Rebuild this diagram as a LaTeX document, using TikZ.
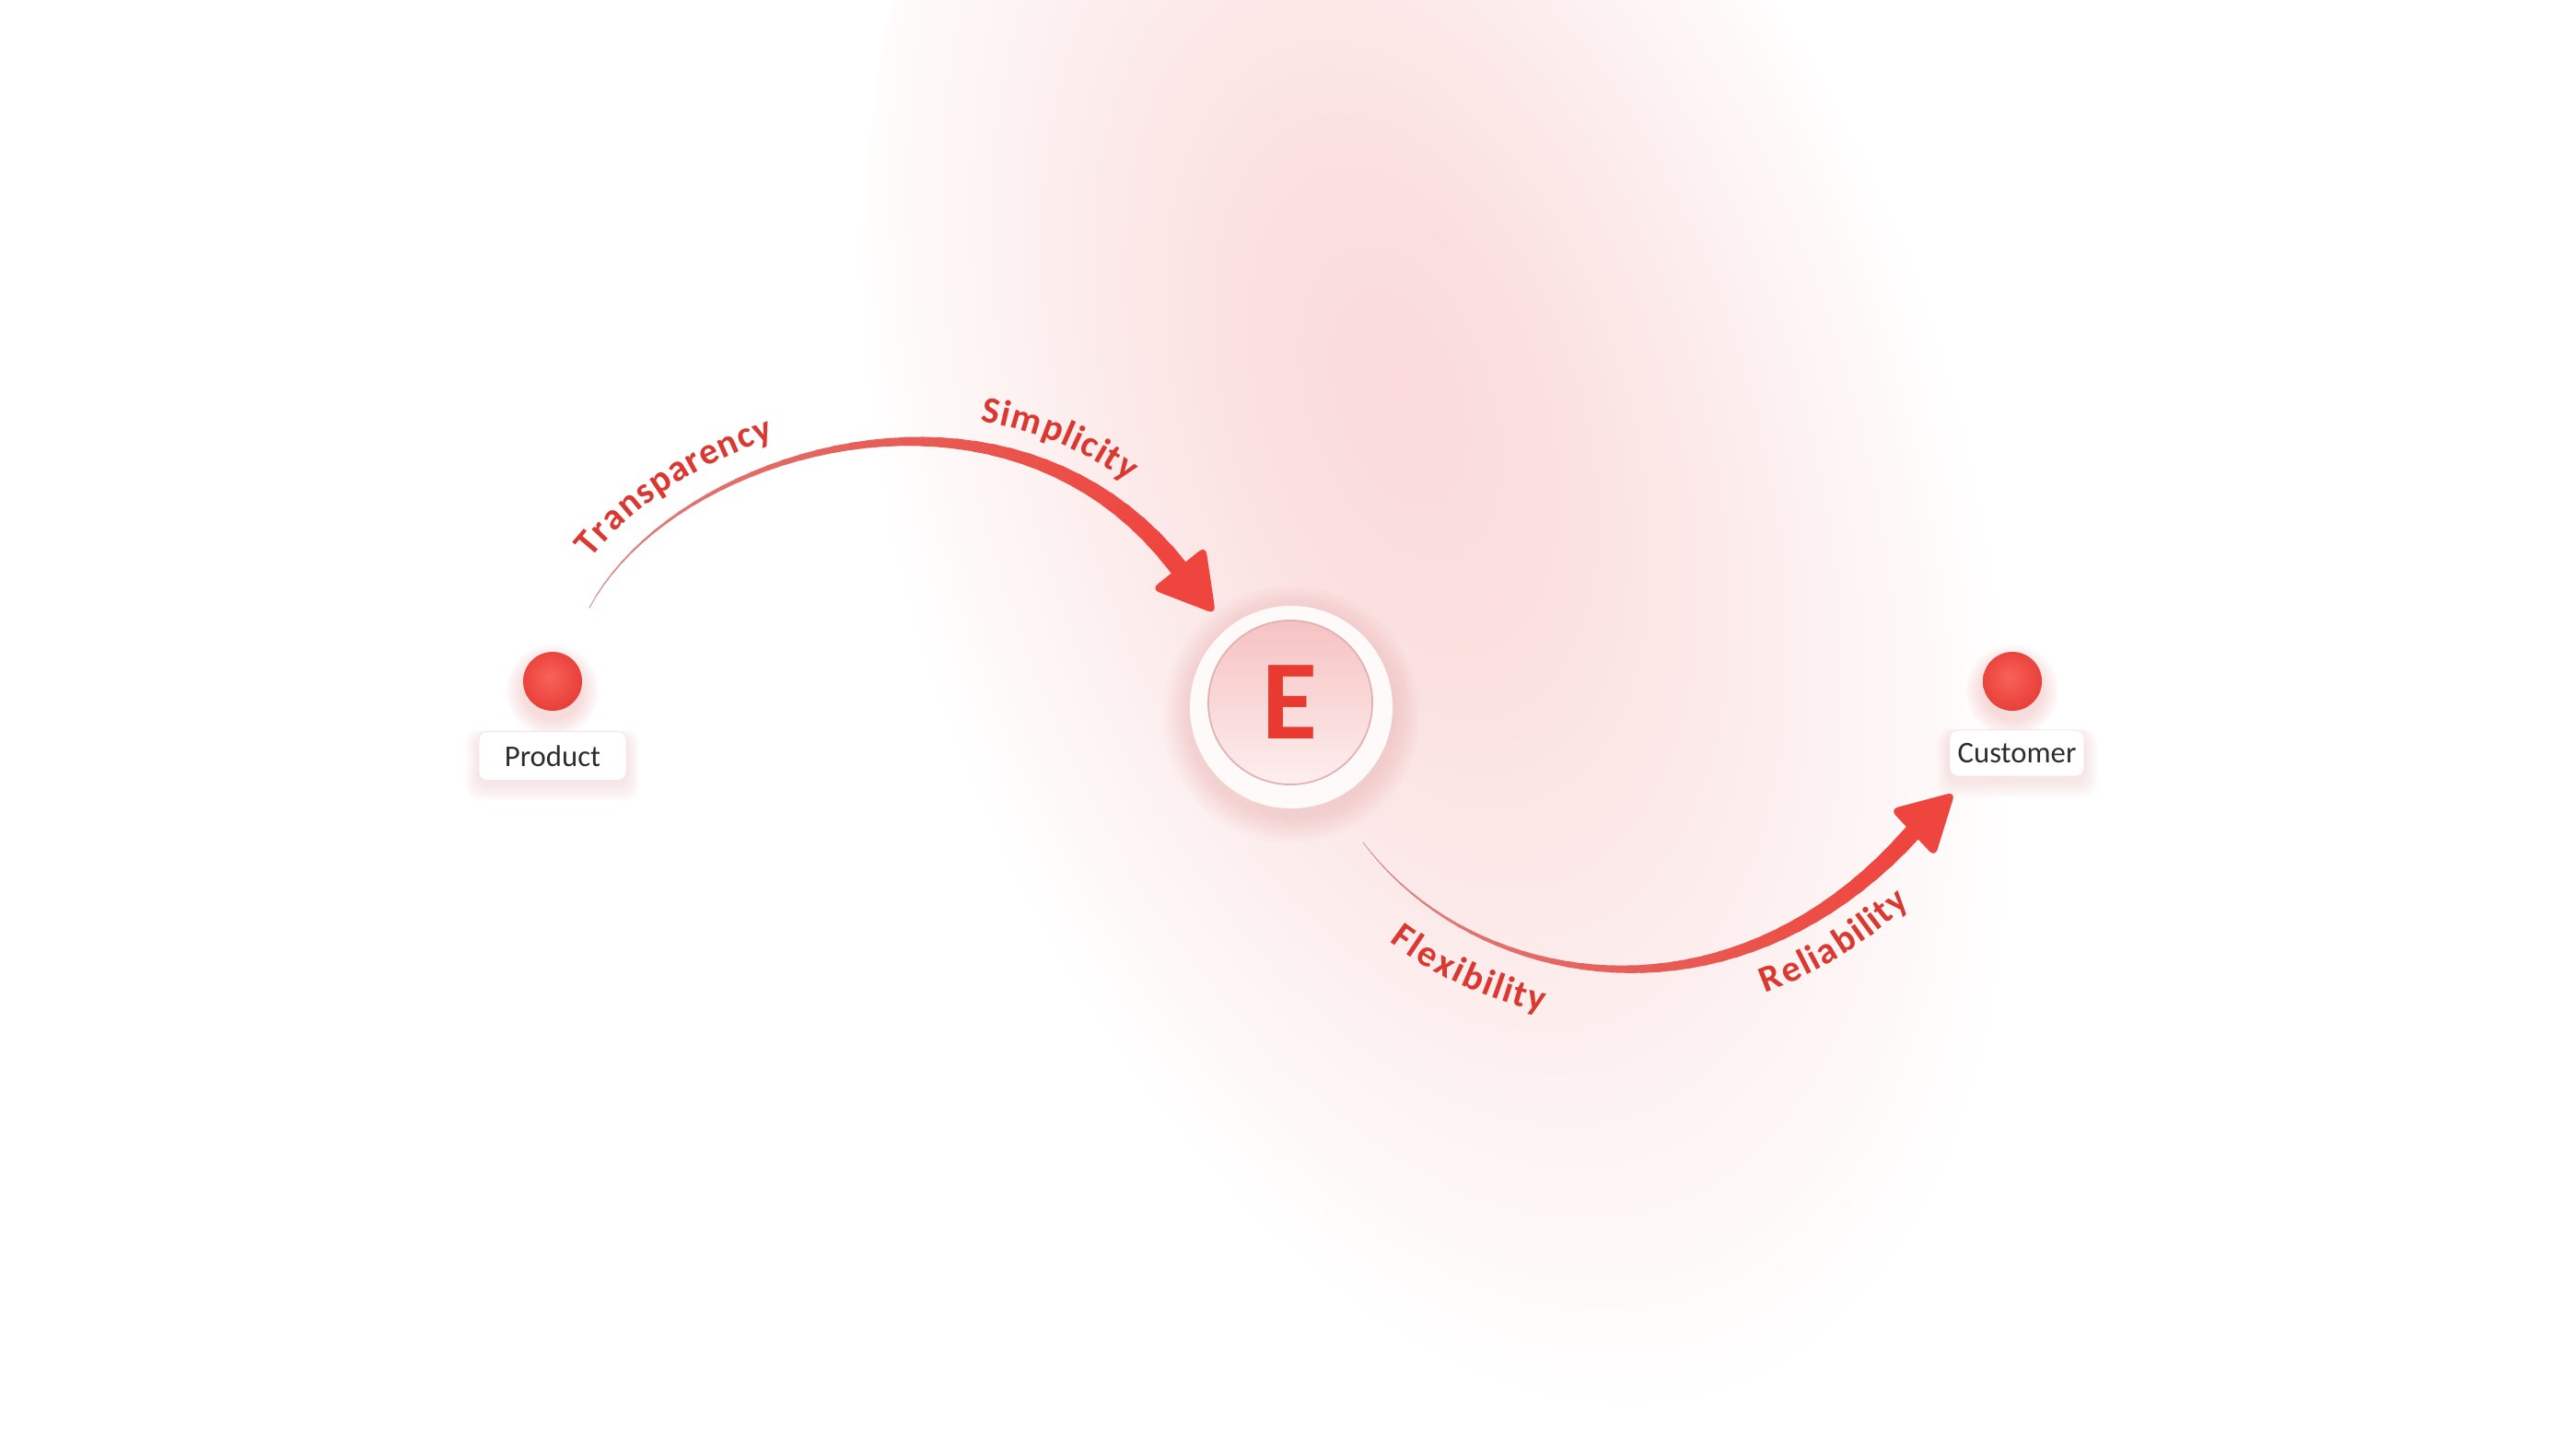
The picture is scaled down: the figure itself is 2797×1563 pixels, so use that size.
\documentclass[tikz,border=0pt]{standalone}
\usepackage{fontspec}
\setmainfont{Carlito}
\usetikzlibrary{decorations.text}
\definecolor{arrowred}{RGB}{238,70,62}
\definecolor{labred}{RGB}{218,56,48}
\definecolor{dotred}{RGB}{240,78,70}
\definecolor{dotlight}{RGB}{246,100,92}
\definecolor{dotdark}{RGB}{232,66,60}
\definecolor{bgpink}{RGB}{252,232,232}
\definecolor{bgcore}{RGB}{250,218,218}
\definecolor{startgray}{RGB}{205,185,185}
\definecolor{txtgray}{RGB}{45,45,45}
\definecolor{glowpink}{RGB}{240,150,150}
\definecolor{boxedge}{RGB}{240,228,228}
\definecolor{ringwhite}{RGB}{254,250,250}
\definecolor{coretop}{RGB}{246,194,194}
\definecolor{corebot}{RGB}{253,238,238}
\definecolor{coreedge}{RGB}{228,176,176}
\definecolor{Ered}{RGB}{232,58,48}
\newcommand\labfont{\fontsize{11.5}{14}\selectfont\bfseries}
\pgfdeclareradialshading{bgglow}{\pgfpoint{0bp}{5bp}}{color(0bp)=(bgcore); color(5bp)=(bgcore!70!bgpink); color(12bp)=(bgpink); color(25bp)=(white); color(50bp)=(white)}
\pgfdeclareradialshading{dotshade}{\pgfpoint{-3bp}{4bp}}{color(0bp)=(dotlight); color(15bp)=(dotred); color(25bp)=(dotdark); color(50bp)=(dotdark)}
\tikzset{
  dotnode/.style={circle, inner sep=0pt, minimum size=0.64cm, shade, shading=dotshade},
  lbl/.style={rectangle, fill=white, rounded corners=2.5pt, inner sep=0pt, font=\fontsize{9.3}{11}\selectfont, text=txtgray, draw=boxedge, line width=0.2pt},
  hubring/.style={circle, inner sep=0pt, minimum size=2.2cm, fill=ringwhite},
  hubcore/.style={circle, inner sep=0pt, minimum size=1.78cm, top color=coretop, bottom color=corebot, draw=coreedge, line width=0.5pt, text=Ered, font=\fontsize{35}{40}\selectfont\bfseries},
  curvelabel/.style={decorate, decoration={text along path, text color=labred, #1}},
  headtip/.style={fill=arrowred, rounded corners=2.5pt}
}
\begin{document}
\begin{tikzpicture}[x=0.01cm,y=-0.01cm]
\useasboundingbox (0,0) rectangle (2797,1563);
\fill[white] (0,0) rectangle (2797,1563);
% background glow
\begin{scope}[transform canvas={rotate around={18:(1580,620)}}]
  \shade[shading=bgglow] (1580,620) ellipse [x radius=580, y radius=1050];
\end{scope}

% hub glow
\foreach \s in {1,...,10}{\fill[glowpink, opacity=0.03] (1402,776) circle [radius=110+\s*3];}
\node[hubring] (hubring) at (1402,768) {};
\node[hubcore] (hub) at (1401,763) {E};

% upper curve
\coordinate (ts) at (640,660);
\coordinate (tc1) at (730,490);
\coordinate (tc2) at (1095,377);
\coordinate (te) at (1280,617);
\coordinate (ttip) at (1320,667);
\coordinate (tl) at (1250,640);
\coordinate (tr) at (1309,593);
\foreach \k in {0,...,40}{\pgfmathsetmacro\tpos{\k/40}\path (ts) .. controls (tc1) and (tc2) .. (te) coordinate[pos=\tpos] (ua\k);}
\foreach \k in {0,...,39}{
  \pgfmathtruncatemacro\kk{\k+1}
  \pgfmathsetmacro\lw{0.35+5.3*(\k/39)^1.5}
  \pgfmathtruncatemacro\pc{15+85*(\k/39)^0.45}
  \draw[line width=\lw pt, line cap=round, arrowred!\pc!startgray] (ua\k) -- (ua\kk);
}
\fill[headtip] (ttip) -- (tl) -- (tr) -- cycle;

% lower curve
\coordinate (bs) at (1480,915);
\coordinate (bc1) at (1600,1075);
\coordinate (bc2) at (1880,1125);
\coordinate (be) at (2077,904);
\coordinate (btip) at (2123,860);
\coordinate (bl) at (2052,879);
\coordinate (br) at (2101,931);
\foreach \k in {0,...,40}{\pgfmathsetmacro\tpos{\k/40}\path (bs) .. controls (bc1) and (bc2) .. (be) coordinate[pos=\tpos] (ub\k);}
\foreach \k in {0,...,39}{
  \pgfmathtruncatemacro\kk{\k+1}
  \pgfmathsetmacro\lw{0.3+5.0*(\k/39)^1.4}
  \pgfmathtruncatemacro\pc{15+85*(\k/39)^0.45}
  \draw[line width=\lw pt, line cap=round, arrowred!\pc!startgray] (ub\k) -- (ub\kk);
}
\fill[headtip] (btip) -- (bl) -- (br) -- cycle;

% curved labels
\path[curvelabel={text={|\labfont|Transparency}, raise=8pt, text align={left indent=0.42cm}}] (ts) .. controls (tc1) and (tc2) .. (te);
\path[curvelabel={text={|\labfont|Simplicity}, raise=8pt, text align={left indent=4.8cm}}] (ts) .. controls (tc1) and (tc2) .. (te);
\path[curvelabel={text={|\labfont|Flexibility}, raise=-16pt, text align={left indent=0.88cm}}] (bs) .. controls (bc1) and (bc2) .. (be);
\path[curvelabel={text={|\labfont|Reliability}, raise=-15pt, text align={left indent=4.62cm}}] (bs) .. controls (bc1) and (bc2) .. (be);

% endpoints
\foreach \s in {1,...,8}{\fill[glowpink, opacity=0.045] (600,750) circle [radius=30+\s*2.5];}
\foreach \s in {1,...,8}{\fill[glowpink, opacity=0.045] (2185,750) circle [radius=30+\s*2.5];}
\foreach \s in {1,...,7}{\fill[glowpink, opacity=0.03, rounded corners=4pt] (600-80-\s*2, 821-26-\s*1+5) rectangle (600+80+\s*2, 821+26+\s*2.5+5);}
\foreach \s in {1,...,7}{\fill[glowpink, opacity=0.03, rounded corners=4pt] (2190-73-\s*2, 818-25-\s*1+5) rectangle (2190+73+\s*2, 818+25+\s*2.5+5);}
\node[dotnode] (prod) at (600,740) {};
\node[lbl, minimum width=1.6cm, minimum height=0.53cm] (prodlbl) at (600,821) {Product};
\node[dotnode] (cust) at (2185,740) {};
\node[lbl, minimum width=1.46cm, minimum height=0.5cm] (custlbl) at (2190,818) {Customer};
\end{tikzpicture}
\end{document}
